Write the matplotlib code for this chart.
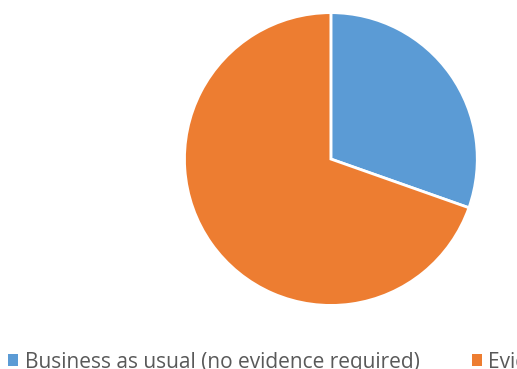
import matplotlib.pyplot as plt
from matplotlib.patches import Patch

plt.rcParams['font.family'] = ['Open Sans', 'DejaVu Sans']

labels = ['Business as usual (no evidence required)', 'Evidence required']
shares = [30.4, 69.6]
colors = ['#5B9BD5', '#ED7D31']

fig = plt.figure(figsize=(5.17, 3.69), dpi=100)
ax = fig.add_axes([0.354, 0.168, 0.572, 0.802])
ax.pie(shares, colors=colors, startangle=90, counterclock=False,
       wedgeprops=dict(edgecolor='white', linewidth=2))
ax.set_xlim(-1.01, 1.01)
ax.set_ylim(-1.01, 1.01)
ax.set_aspect('equal')

handles = [Patch(facecolor=c, edgecolor='none') for c in colors]
fig.legend(handles, labels, ncol=2, loc='lower left', bbox_to_anchor=(8 / 517, -0.01),
           frameon=False, fontsize=15, handlelength=0.5, handleheight=0.5,
           handletextpad=0.3, columnspacing=2.5, labelcolor='#595959',
           borderpad=0, borderaxespad=0)

fig.savefig('out.png', dpi=100)
